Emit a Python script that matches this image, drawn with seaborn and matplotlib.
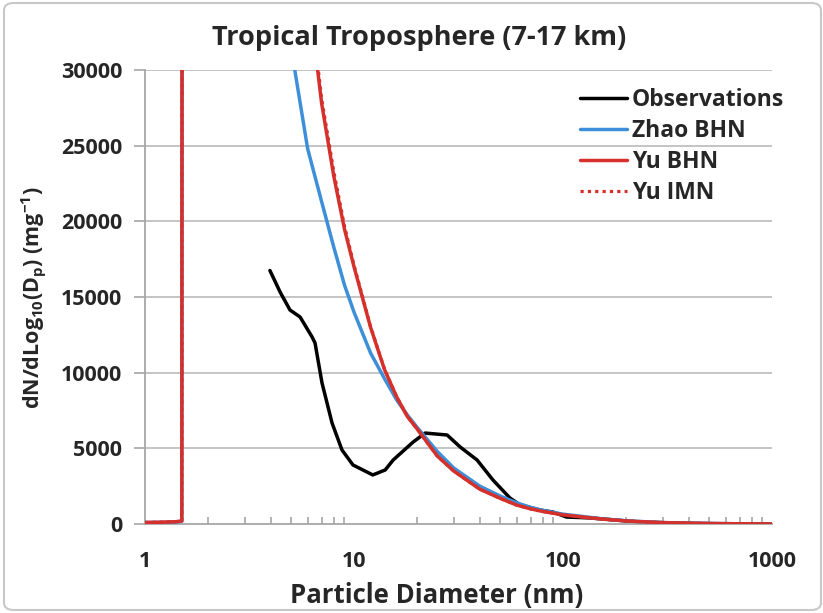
import numpy as np
import pandas as pd
import matplotlib
matplotlib.use("Agg")
import matplotlib.pyplot as plt
import seaborn as sns
from matplotlib.patches import FancyBboxPatch
from matplotlib.ticker import FixedLocator, NullFormatter

# ---------------- data ----------------
model_d = [1.0, 1.2, 1.4, 1.5, 1.55, 2, 3, 4, 5, 6, 7, 8, 9, 10, 12, 14, 16, 18, 20,
           25, 30, 40, 50, 60, 70, 80, 100, 150, 200, 300, 500, 700, 1000]
zhao_bhn = [100, 110, 130, 180, 400000, 300000, 150000, 60000, 31500, 24800, 21300, 18300,
            15800, 14000, 11300, 9600, 8200, 7200, 6400, 4800, 3700, 2500, 1850, 1400,
            1100, 900, 650, 360, 210, 95, 32, 16, 6]
yu_bhn = [100, 120, 150, 200, 400000, 300000, 150000, 80000, 50000, 35500, 27800, 23000,
          19500, 17000, 13000, 10200, 8400, 7100, 6300, 4500, 3500, 2300, 1700, 1250,
          1000, 830, 600, 340, 200, 90, 30, 15, 5]
yu_imn = [100, 120, 150, 200, 400000, 300000, 150000, 82000, 51000, 36100, 28100, 23300,
          19700, 17100, 13050, 10220, 8410, 7100, 6300, 4500, 3500, 2300, 1700, 1250,
          1000, 830, 600, 340, 200, 90, 30, 15, 5]

obs_d = [3.96, 4.43, 4.94, 5.52, 6.30, 6.51, 7.03, 7.85, 8.76, 9.89, 12.3, 14.1, 15.4,
         19.2, 21.9, 27.9, 32.2, 38.8, 46.2, 55.7, 62.3, 77.6, 89.5, 104, 135, 234, 400,
         700, 1000]
obs = [16750, 15330, 14140, 13680, 12360, 11960, 9320, 6680, 4890, 3900, 3240, 3570, 4230,
       5420, 6010, 5880, 5090, 4230, 2910, 1720, 1260, 925, 790, 460, 400, 130, 40, 10, 5]

series_names = ["Observations", "Zhao BHN", "Yu BHN", "Yu IMN"]
x_ticks = [1, 10, 100, 1000]
x_tick_labels = ["1", "10", "100", "1000"]
y_ticks = [0, 5000, 10000, 15000, 20000, 25000, 30000]

# ---------------- style ----------------
sns.set_style("white")
FONT = "Open Sans"
plt.rcParams["font.family"] = [FONT, "DejaVu Sans"]
plt.rcParams["font.weight"] = "bold"
plt.rcParams["mathtext.fontset"] = "custom"
plt.rcParams["mathtext.rm"] = FONT + ":bold"
plt.rcParams["mathtext.it"] = FONT + ":bold"
plt.rcParams["mathtext.bf"] = FONT + ":bold"
plt.rcParams["mathtext.default"] = "bf"

W, H = 823, 613
fig = plt.figure(figsize=(W / 100, H / 100), dpi=100)
ax = fig.add_axes([145 / W, 1 - 524 / H, (772 - 145) / W, (524 - 70) / H])

black = "#000000"
blue = "#3d8fd9"
red = "#d5302b"
grid_c = "#bfbfbf"
axis_c = "#a6a6a6"

df_obs = pd.DataFrame({"d": obs_d, "v": obs})
df_z = pd.DataFrame({"d": model_d, "v": zhao_bhn})
df_b = pd.DataFrame({"d": model_d, "v": yu_bhn})
df_i = pd.DataFrame({"d": model_d, "v": yu_imn})

for y in y_ticks[1:]:
    ax.axhline(y, color=grid_c, lw=1.3, zorder=0)

sns.lineplot(data=df_obs, x="d", y="v", sort=False, ax=ax, color=black, lw=2.5,
             label=series_names[0], zorder=2)
sns.lineplot(data=df_z, x="d", y="v", sort=False, ax=ax, color=blue, lw=2.5,
             label=series_names[1], zorder=3)
sns.lineplot(data=df_b, x="d", y="v", sort=False, ax=ax, color=red, lw=2.5,
             label=series_names[2], zorder=4)
sns.lineplot(data=df_i, x="d", y="v", sort=False, ax=ax, color=red, lw=2.3,
             linestyle=(0, (1, 1.3)), label=series_names[3], zorder=5)

ax.set_xscale("log")
ax.set_xlim(1, 1000)
ax.set_ylim(0, 30000)

ax.xaxis.set_major_locator(FixedLocator(x_ticks))
ax.set_xticklabels(x_tick_labels)
minors = [m * 10 ** e for e in range(0, 3) for m in range(2, 10)]
ax.xaxis.set_minor_locator(FixedLocator(minors))
ax.xaxis.set_minor_formatter(NullFormatter())
ax.set_yticks(y_ticks)
ax.set_yticklabels([str(v) for v in y_ticks])

for s in ["top", "right"]:
    ax.spines[s].set_visible(False)
for s in ["left", "bottom"]:
    ax.spines[s].set_color(axis_c)
    ax.spines[s].set_linewidth(1.3)

ax.tick_params(axis="x", which="major", direction="inout", length=13, width=1.2,
               color=axis_c, labelsize=15.5, pad=13)
ax.tick_params(axis="x", which="minor", direction="in", length=5, width=1.2,
               color=axis_c, bottom=True)
ax.tick_params(axis="y", which="major", direction="out", length=8, width=1.2,
               color=axis_c, labelsize=15.5, pad=8.5, left=True)
for lbl in ax.get_xticklabels() + ax.get_yticklabels():
    lbl.set_fontweight("bold")

ax.set_xlabel("")
ax.set_ylabel("")
fig.text(437 / W, 1 - 596 / H, "Particle Diameter (nm)", ha="center", va="center",
         fontsize=18.5, fontweight="bold")
fig.text(34 / W, 1 - 298 / H, r"dN/dLog$_{10}$(D$_p$) (mg$^{-1}$)", ha="center",
         va="center", rotation=90, fontsize=15.5, fontweight="bold")
fig.text(419 / W, 1 - 38 / H, "Tropical Troposphere (7-17 km)", ha="center",
         va="center", fontsize=19.5, fontweight="bold")

leg = ax.legend(loc="upper left",
                bbox_to_anchor=((580 - 145) / (772 - 145), 1 - (88 - 70) / (524 - 70)),
                frameon=False, fontsize=16.5, handlelength=2.05, handletextpad=0.2,
                labelspacing=0.3, borderaxespad=0, borderpad=0)
for t in leg.get_texts():
    t.set_fontweight("bold")

border = FancyBboxPatch((4 / W, 3 / H), (W - 6) / W, (H - 6) / H,
                        boxstyle="round,pad=0,rounding_size=0.012",
                        transform=fig.transFigure, fill=False,
                        edgecolor="#c8c8c8", lw=1.5)
fig.patches.append(border)

fig.savefig("out.png", dpi=100)
